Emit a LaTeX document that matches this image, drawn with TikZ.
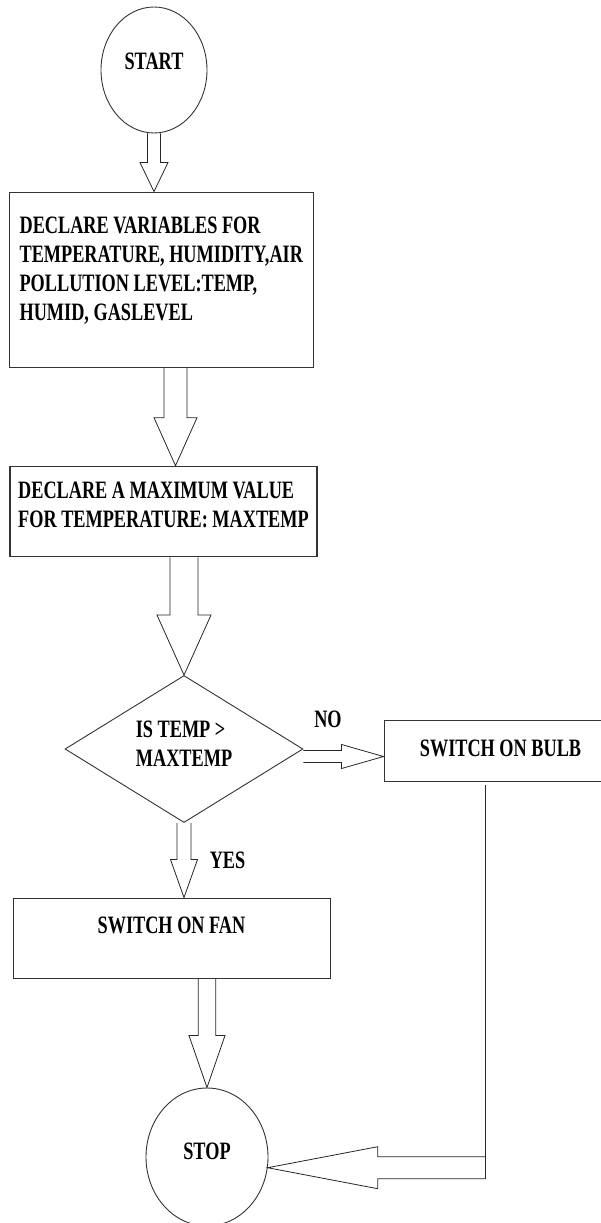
\documentclass[tikz,border=0pt]{standalone}
\usepackage{fontspec}
\setmainfont{Liberation Serif}[FakeStretch=0.73]
\usetikzlibrary{shapes.geometric,calc}

% text of a block, one line per row
\newcommand{\flowtext}[1]{\begin{tabular}{@{}l@{}}#1\end{tabular}}

% hollow block arrows: #1 source, #2 tip, #3 half shaft, #4 half head, #5 head length
\newcommand{\blockdown}[5]{%
    \draw[arrowline] let \p1 = (#1), \p2 = (#2) in
        (\x2-#3,\y1) -- (\x2-#3,\y2+#5) -- (\x2-#4,\y2+#5) -- (\p2)
        -- (\x2+#4,\y2+#5) -- (\x2+#3,\y2+#5) -- (\x2+#3,\y1);}
\newcommand{\blockright}[5]{%
    \draw[arrowline] let \p1 = (#1), \p2 = (#2) in
        (\x1,\y2+#3) -- (\x2-#5,\y2+#3) -- (\x2-#5,\y2+#4) -- (\p2)
        -- (\x2-#5,\y2-#4) -- (\x2-#5,\y2-#3) -- (\x1,\y2-#3);}
\newcommand{\blockleft}[5]{%
    \draw[arrowline] let \p1 = (#1), \p2 = (#2) in
        (\x1,\y2+#3) -- (\x2+#5,\y2+#3) -- (\x2+#5,\y2+#4) -- (\p2)
        -- (\x2+#5,\y2-#4) -- (\x2+#5,\y2-#3) -- (\x1,\y2-#3);}

\tikzset{
    chart/.style = {draw = black!80, line width = 0.9pt, inner sep = 0pt,
        font = \fontsize{25}{29}\selectfont\bfseries},
    terminal/.style = {chart, ellipse},
    process/.style = {chart, rectangle},
    decision/.style = {chart, diamond, aspect = 1.6},
    arrowline/.style = {draw = black!85, line width = 0.8pt},
    tag/.style = {inner sep = 0pt, font = \fontsize{25}{29}\selectfont\bfseries}
}

\begin{document}
\begin{tikzpicture}[x = 1pt, y = -1pt]
    \useasboundingbox (0,0) rectangle (601,1223);

    % blocks
    \node[terminal, minimum width = 106, minimum height = 126] (start) at (154,70)
        {\flowtext{START\\[12pt]}};
    \node[process, minimum width = 304, minimum height = 175.5] (decl) at (161.3,279.75)
        {\flowtext{DECLARE VARIABLES FOR\\TEMPERATURE, HUMIDITY,AIR\\POLLUTION LEVEL:TEMP,\\HUMID, GASLEVEL\\[17pt]}};
    \node[process, line width = 1.6pt, minimum width = 307, minimum height = 90] (maxv) at (163.5,511.5)
        {\flowtext{DECLARE A MAXIMUM VALUE\\FOR TEMPERATURE: MAXTEMP\\[9pt]}};
    \node[decision, minimum width = 238, minimum height = 147] (check) at (184,749)
        {\flowtext{IS TEMP >\\MAXTEMP\\[5pt]}};
    \node[process, minimum width = 233, minimum height = 61] (bulb) at (500.5,750.5)
        {\flowtext{SWITCH ON BULB}};
    \node[process, minimum width = 317, minimum height = 80] (fan) at (171.5,938)
        {\flowtext{SWITCH ON FAN\\[21pt]}};
    \node[terminal, minimum width = 122, minimum height = 138] (stop) at (207,1157)
        {\flowtext{STOP\\[7pt]}};

    % branch labels
    \node[tag] (nolbl) at (328,719) {NO};
    \node[tag] (yeslbl) at (227.5,860) {YES};

    % arrows
    \blockdown{start.south}{start.south |- decl.north}{6.5pt}{14pt}{29pt}
    \blockdown{decl.south}{$(maxv.north)+(12,0)$}{11.5pt}{21.5pt}{48pt}
    \blockdown{maxv.south}{check.north}{14pt}{27pt}{60pt}
    \blockright{check.east}{$(bulb.west)+(0,6)$}{6pt}{12pt}{42pt}
    \blockdown{check.south}{check.south |- fan.north}{7pt}{13.5pt}{38pt}
    \blockdown{fan.south}{stop.north}{8.7pt}{18pt}{52pt}

    \coordinate (turn) at ($(bulb.south)+(-15,4)$);
    \draw[arrowline] let \p1 = (turn), \p2 = (stop.-10) in (\p1) -- (\x1,\y2-11pt);
    \blockleft{turn}{stop.-10}{11pt}{21pt}{110pt}
\end{tikzpicture}
\end{document}
